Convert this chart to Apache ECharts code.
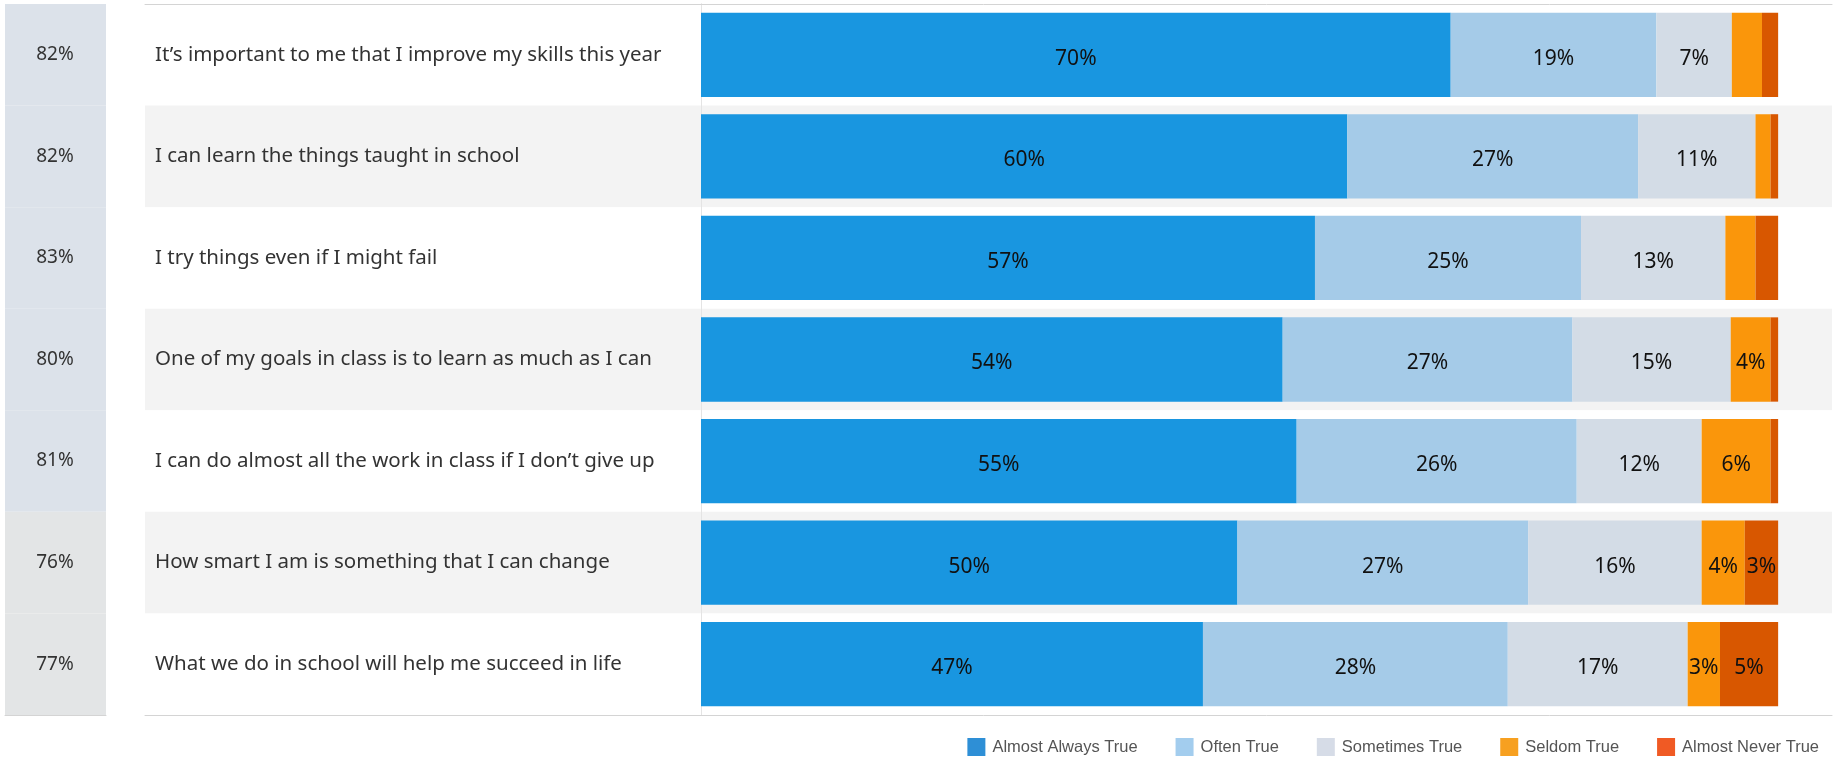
<!DOCTYPE html>
<html>
<head>
<meta charset="utf-8">
<script src="https://cdn.jsdelivr.net/npm/echarts@6/dist/echarts.min.js"></script>
<style>
  html, body { margin: 0; padding: 0; background: #fff; }
  #chart { width: 1836px; height: 759px; }
</style>
</head>
<body>
<div id="chart"></div>
<script>
// survey statements, top to bottom
const questions = [
  'It\u2019s important to me that I improve my skills this year',
  'I can learn the things taught in school',
  'I try things even if I might fail',
  'One of my goals in class is to learn as much as I can',
  'I can do almost all the work in class if I don\u2019t give up',
  'How smart I am is something that I can change',
  'What we do in school will help me succeed in life'
];
// left column
const overall = [82, 82, 83, 80, 81, 76, 77];

// response shares (%)
const almostAlways = [69.6, 60.0, 57.0, 54.0, 55.3, 49.8, 46.6];
const often        = [19.1, 27.0, 24.7, 26.9, 26.0, 27.0, 28.3];
const sometimes    = [7.0, 10.9, 13.4, 14.7, 11.6, 16.1, 16.7];
const seldom       = [2.8, 1.4, 2.8, 3.7, 6.4, 4.0, 3.0];
const almostNever  = [1.5, 0.7, 2.1, 0.7, 0.7, 3.1, 5.4];

const seriesNames = ['Almost Always True', 'Often True', 'Sometimes True', 'Seldom True', 'Almost Never True'];
const barColors = ['#1996e0', '#a5cbe8', '#d3dce6', '#fa960b', '#d85700'];
const legendColors = ['#2e8fd6', '#a3cdee', '#d6dce7', '#f7a020', '#f05a24'];

const chart = echarts.init(document.getElementById('chart'));

const gridTop = 4, gridHeight = 711;
const lineColor = '#d4d4d4';

function hiddenValueAxis(grid, pos, showLine) {
  return {
    type: 'value', gridIndex: grid, position: pos, min: 0, max: grid === 2 ? 105 : 1,
    axisLabel: { show: false }, axisTick: { show: false }, splitLine: { show: false },
    axisLine: { show: showLine, onZero: false, lineStyle: { color: lineColor, width: 1 } }
  };
}

const stackData = [almostAlways, often, sometimes, seldom, almostNever];

const barSeries = stackData.map((arr, i) => ({
  name: seriesNames[i],
  type: 'bar',
  stack: 'total',
  xAxisIndex: 3,
  yAxisIndex: 2,
  barCategoryGap: '17%',
  itemStyle: { color: barColors[i] },
  label: {
    show: true,
    position: 'inside',
    offset: [0, 4],
    fontFamily: 'Noto Sans',
    fontSize: 21,
    color: '#111',
    formatter: p => p.value >= 2.95 ? Math.round(p.value) + '%' : ''
  },
  emphasis: { disabled: true },
  data: arr
}));

chart.setOption({
  animation: false,
  legend: {
    right: 12,
    top: 733,
    icon: 'rect',
    itemWidth: 18,
    itemHeight: 18,
    itemGap: 38,
    selectedMode: false,
    textStyle: { fontFamily: 'Liberation Sans', fontSize: 16.5, color: '#555', padding: [0, 0, 0, 2] },
    data: seriesNames.map((n, i) => ({ name: n, itemStyle: { color: legendColors[i] } }))
  },
  grid: [
    { left: 5, width: 101, top: gridTop, height: gridHeight },
    { left: 145, width: 556, top: gridTop, height: gridHeight },
    { left: 701, right: 4, top: gridTop, height: gridHeight }
  ],
  xAxis: [
    hiddenValueAxis(0, 'bottom', true),
    hiddenValueAxis(1, 'bottom', true),
    hiddenValueAxis(1, 'top', true),
    hiddenValueAxis(2, 'bottom', true),
    hiddenValueAxis(2, 'top', true)
  ],
  yAxis: [
    {
      type: 'category', gridIndex: 0, inverse: true, data: questions, z: 10,
      axisLine: { show: false }, axisTick: { show: false },
      axisLabel: {
        align: 'center', margin: -50, padding: [11, 0, 0, 0],
        fontFamily: 'Noto Sans', fontSize: 19, color: '#333',
        formatter: (v, idx) => overall[idx] + '%'
      }
    },
    {
      type: 'category', gridIndex: 1, inverse: true, data: questions,
      axisLine: { show: false }, axisTick: { show: false },
      splitArea: { show: true, areaStyle: { color: ['#ffffff', '#f3f3f3'] } },
      axisLabel: {
        align: 'left', margin: -10, padding: [10, 0, 0, 0],
        fontFamily: 'Noto Sans', fontSize: 20.5, color: '#333'
      }
    },
    {
      type: 'category', gridIndex: 2, inverse: true, data: questions,
      axisLine: { show: true, lineStyle: { color: '#e4e4e4' } }, axisTick: { show: false },
      axisLabel: { show: false },
      splitArea: { show: true, areaStyle: { color: ['#ffffff', '#f3f3f3'] } }
    },
    {
      type: 'category', gridIndex: 2, inverse: true, position: 'right', data: questions,
      axisLine: { show: true, lineStyle: { color: '#e4e4e4' } }, axisTick: { show: false },
      axisLabel: { show: false }
    }
  ],
  series: [
    {
      type: 'bar',
      xAxisIndex: 0,
      yAxisIndex: 0,
      barWidth: '100%',
      silent: true,
      label: { show: false },
      data: overall.map(v => ({ value: 1, itemStyle: { color: v >= 80 ? '#dce2ea' : '#e3e5e6' } }))
    }
  ].concat(barSeries)
});
</script>
</body>
</html>
